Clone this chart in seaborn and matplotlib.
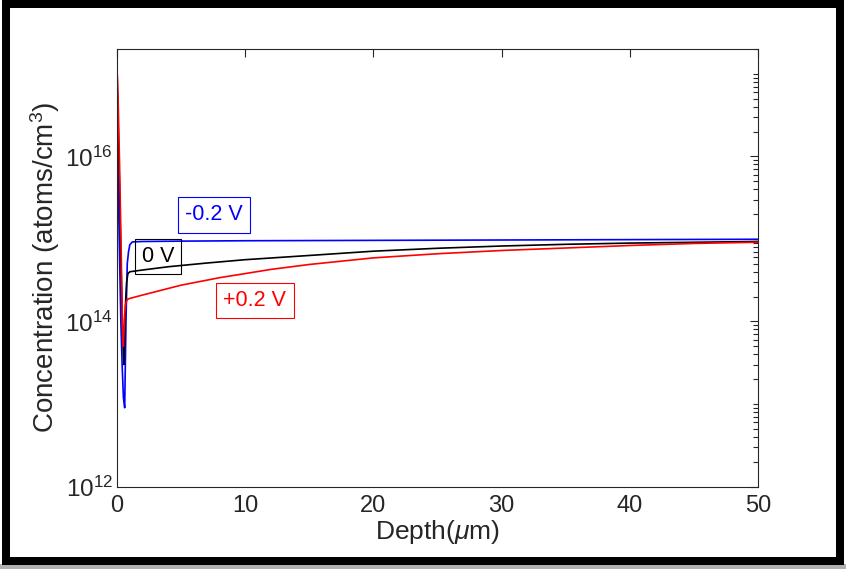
import numpy as np
import pandas as pd
import matplotlib
matplotlib.use("Agg")
import matplotlib.pyplot as plt
import seaborn as sns
from matplotlib.patches import Rectangle
from matplotlib.ticker import FixedLocator, LogLocator, LogFormatterMathtext, NullFormatter

# ---- data ----
depth_pos = [0.0, 0.05, 0.1, 0.2, 0.3, 0.4, 0.45, 0.5, 0.6, 0.7, 0.8, 1.0, 2.0, 3.0, 4.0, 5.0, 6.0, 7.0, 8.0, 10.0, 12.0, 15.0, 20.0, 25.0, 30.0, 35.0, 40.0, 45.0, 50.0]
conc_pos = [1.1e17, 8e16, 4e16, 8e15, 1.2e15, 1.5e14, 6e13, 5e13, 1.2e14, 1.7e14, 1.85e14, 1.9e14, 2.09e14, 2.29e14, 2.51e14, 2.75e14, 2.95e14, 3.16e14, 3.39e14, 3.8e14, 4.27e14, 4.9e14, 5.89e14, 6.61e14, 7.24e14, 7.76e14, 8.32e14, 8.81e14, 9.12e14]

depth_zero = [0.0, 0.05, 0.1, 0.2, 0.3, 0.4, 0.5, 0.55, 0.65, 0.75, 0.85, 1.0, 2.0, 4.0, 7.0, 10.0, 15.0, 20.0, 25.0, 30.0, 35.0, 40.0, 45.0, 50.0]
conc_zero = [8e16, 5e16, 2e16, 4e15, 6e14, 1.2e14, 4e13, 3e13, 1.5e14, 3e14, 3.8e14, 4.0e14, 4.2e14, 4.6e14, 5.1e14, 5.6e14, 6.3e14, 7.1e14, 7.7e14, 8.2e14, 8.6e14, 8.9e14, 9.1e14, 9.3e14]

depth_neg = [0.0, 0.05, 0.1, 0.2, 0.3, 0.4, 0.5, 0.6, 0.7, 0.8, 0.9, 1.0, 1.2, 2.0, 5.0, 10.0, 20.0, 30.0, 40.0, 50.0]
conc_neg = [1.8e16, 1.0e16, 4e15, 6e14, 1e14, 3e13, 1.2e13, 9e12, 1e14, 5e14, 7e14, 8.5e14, 9.2e14, 9.3e14, 9.4e14, 9.5e14, 9.6e14, 9.7e14, 9.8e14, 9.9e14]

series_names = ["+0.2 V", "0 V", "-0.2 V"]
series_colors = ["#ff0000", "#000000", "#0000ff"]

df = pd.concat([
    pd.DataFrame({"Depth": depth_neg, "Conc": conc_neg, "Bias": "-0.2 V"}),
    pd.DataFrame({"Depth": depth_zero, "Conc": conc_zero, "Bias": "0 V"}),
    pd.DataFrame({"Depth": depth_pos, "Conc": conc_pos, "Bias": "+0.2 V"}),
], ignore_index=True)

sns.set_style("white")
plt.rcParams["font.family"] = ["Liberation Sans", "DejaVu Sans"]
plt.rcParams["mathtext.fontset"] = "custom"
plt.rcParams["mathtext.rm"] = "Liberation Sans"
plt.rcParams["mathtext.it"] = "Liberation Sans:italic"
plt.rcParams["mathtext.sf"] = "Liberation Sans"

W, H = 846, 569
fig = plt.figure(figsize=(W / 100, H / 100), dpi=100)
ax = fig.add_axes([117 / W, (H - 486.5) / H, (758 - 117) / W, (486.5 - 49) / H])

sns.lineplot(data=df, x="Depth", y="Conc", hue="Bias", hue_order=["-0.2 V", "0 V", "+0.2 V"],
             palette=dict(zip(series_names, series_colors)), estimator=None,
             sort=False, linewidth=1.2, legend=False, ax=ax)

ax.set_yscale("log")
ax.set_xlim(0, 50)
ax.set_ylim(1e12, 2e17)
ax.set_xticks([0, 10, 20, 30, 40, 50])
ax.yaxis.set_major_locator(FixedLocator([1e12, 1e14, 1e16]))
ax.yaxis.set_major_formatter(LogFormatterMathtext())
ax.yaxis.set_minor_locator(LogLocator(base=10, subs=np.arange(1, 10), numticks=50))
ax.yaxis.set_minor_formatter(NullFormatter())

tc = "#262626"
for s in ax.spines.values():
    s.set_visible(True)
    s.set_color(tc)
    s.set_linewidth(0.8)
ax.tick_params(which="both", direction="in", top=True, right=True, colors=tc,
               labelcolor=tc, width=0.8)
ax.tick_params(which="major", length=6)
ax.tick_params(which="minor", length=3.5)
ax.tick_params(axis="x", labelsize=17, pad=6)
ax.tick_params(axis="y", labelsize=17.5, pad=3)

ax.set_xlabel(r"Depth($\mu$m)", fontsize=19, color=tc, labelpad=1)
ax.set_ylabel(r"Concentration (atoms/cm$^3$)", fontsize=20, color=tc, labelpad=2)

box_kw = dict(boxstyle="square,pad=0.33", facecolor="none", linewidth=0.8)
ax.text(7.57, 10**15.29, "-0.2 V", color="#0000ff", fontsize=15.5, ha="center", va="center",
        bbox=dict(edgecolor="#0000ff", **box_kw))
ax.text(3.2, 10**14.79, "0 V", color="#000000", fontsize=15.5, ha="center", va="center",
        bbox=dict(edgecolor="#000000", **box_kw))
ax.text(10.76, 10**14.25, "+0.2 V", color="#ff0000", fontsize=15.5, ha="center", va="center",
        bbox=dict(edgecolor="#ff0000", **box_kw))

# figure frame (thick black border)
fig.patches.append(Rectangle((0, 0), 1, 5 / H, transform=fig.transFigure,
                             facecolor="#b0b0b0", edgecolor="none", zorder=-1))
fig.patches.append(Rectangle((6 / W, (H - 560.5) / H), (839.5 - 6) / W, (560.5 - 4) / H,
                             transform=fig.transFigure, facecolor="none",
                             edgecolor="black", linewidth=8 * 0.72, zorder=10))

fig.savefig("out.png", dpi=100, facecolor="white")
